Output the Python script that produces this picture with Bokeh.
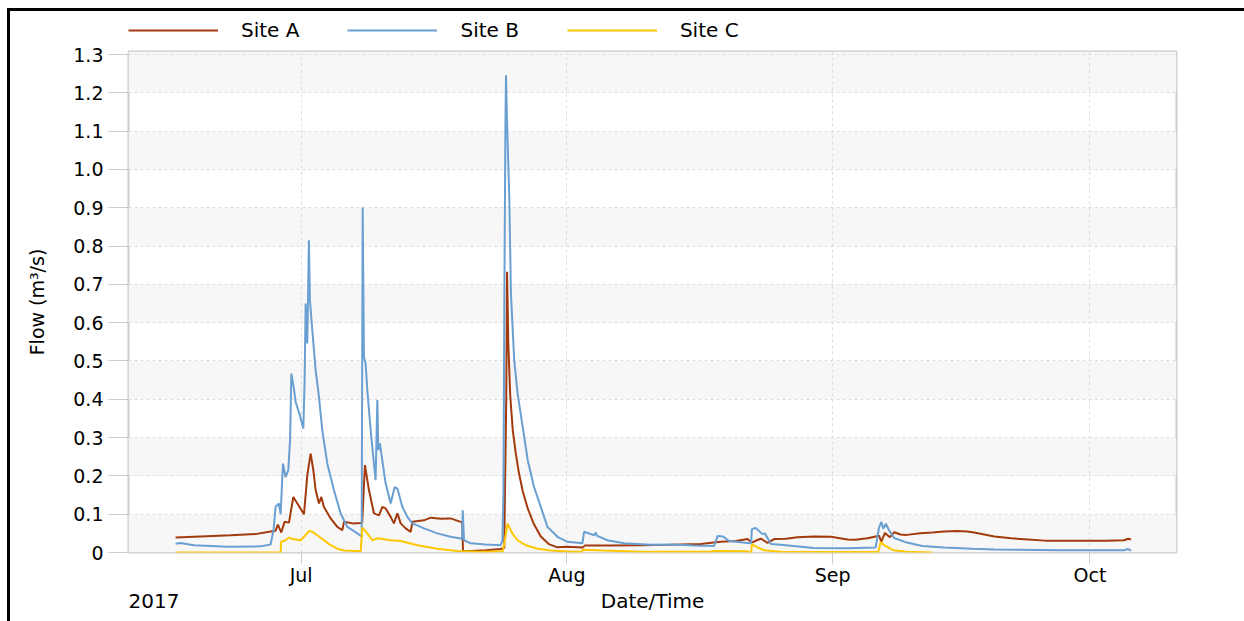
import pandas as pd
from bokeh.plotting import figure
from bokeh.layouts import column
from bokeh.models import (Legend, LegendItem, BoxAnnotation, FixedTicker,
                          DatetimeTickFormatter, Range1d, PrintfTickFormatter,
                          Label, ColumnDataSource)
from bokeh.embed import file_html
from bokeh.resources import INLINE

# ---------------- data ----------------
site_a_time = [
    "2017-06-16 08:40", "2017-06-19 06:30", "2017-06-22 18:30", "2017-06-25 16:30",
    "2017-06-27 10:30", "2017-06-28 00:30", "2017-06-28 07:00", "2017-06-28 16:30",
    "2017-06-29 01:40", "2017-06-29 14:00", "2017-06-30 02:10", "2017-06-30 13:30",
    "2017-07-01 08:00", "2017-07-01 17:20", "2017-07-02 02:40", "2017-07-02 10:10",
    "2017-07-02 16:40", "2017-07-03 02:00", "2017-07-03 08:40", "2017-07-03 15:50",
    "2017-07-04 10:40", "2017-07-05 05:20", "2017-07-05 19:20", "2017-07-06 00:00",
    "2017-07-07 00:10", "2017-07-07 22:40", "2017-07-08 02:50", "2017-07-08 10:40",
    "2017-07-08 21:50", "2017-07-09 11:50", "2017-07-10 01:50", "2017-07-10 11:30",
    "2017-07-10 20:40", "2017-07-11 10:40", "2017-07-11 19:50", "2017-07-12 05:30",
    "2017-07-12 14:40", "2017-07-13 04:40", "2017-07-13 18:40", "2017-07-13 23:30",
    "2017-07-15 08:00", "2017-07-16 02:40", "2017-07-17 06:40", "2017-07-18 10:40",
    "2017-07-19 14:40", "2017-07-19 19:00", "2017-07-19 21:10", "2017-07-20 18:40",
    "2017-07-22 12:40", "2017-07-24 06:40", "2017-07-24 16:30", "2017-07-24 22:10",
    "2017-07-25 00:30", "2017-07-25 03:50", "2017-07-25 09:20", "2017-07-25 16:20",
    "2017-07-26 00:40", "2017-07-26 09:10", "2017-07-26 20:20", "2017-07-27 10:20",
    "2017-07-28 03:10", "2017-07-28 22:50", "2017-07-29 21:10", "2017-07-30 19:40",
    "2017-07-31 23:40", "2017-08-02 20:20", "2017-08-03 02:00", "2017-08-06 02:40",
    "2017-08-09 14:40", "2017-08-13 02:40", "2017-08-16 14:40", "2017-08-18 03:10",
    "2017-08-18 22:50", "2017-08-20 16:50", "2017-08-22 01:40", "2017-08-22 13:40",
    "2017-08-23 03:40", "2017-08-23 14:50", "2017-08-24 09:40", "2017-08-25 04:10",
    "2017-08-26 13:00", "2017-08-27 21:40", "2017-08-29 20:10", "2017-08-31 19:00",
    "2017-09-02 17:30", "2017-09-03 16:00", "2017-09-05 01:00", "2017-09-05 15:00",
    "2017-09-06 09:40", "2017-09-06 16:00", "2017-09-07 02:10", "2017-09-07 16:00",
    "2017-09-08 04:30", "2017-09-08 21:20", "2017-09-09 15:40", "2017-09-11 05:20",
    "2017-09-12 15:00", "2017-09-13 23:00", "2017-09-15 13:00", "2017-09-16 16:50",
    "2017-09-17 12:00", "2017-09-19 20:40", "2017-09-21 19:40", "2017-09-23 19:00",
    "2017-09-25 18:00", "2017-09-27 19:00", "2017-09-29 15:50", "2017-10-02 21:00",
    "2017-10-04 23:30", "2017-10-05 10:50", "2017-10-05 19:10",
]
site_a_flow = [
    0.039, 0.042, 0.045, 0.048,
    0.055, 0.057, 0.073, 0.052,
    0.080, 0.078, 0.145, 0.128,
    0.100, 0.202, 0.258, 0.215,
    0.163, 0.128, 0.145, 0.119,
    0.089, 0.067, 0.058, 0.080,
    0.076, 0.077, 0.078, 0.228,
    0.163, 0.102, 0.097, 0.119,
    0.115, 0.093, 0.076, 0.102,
    0.076, 0.063, 0.054, 0.080,
    0.084, 0.091, 0.088, 0.089,
    0.080, 0.079, 0.004, 0.004,
    0.006, 0.009, 0.012, 0.400,
    0.733, 0.550, 0.410, 0.320,
    0.260, 0.210, 0.160, 0.115,
    0.075, 0.042, 0.022, 0.014,
    0.015, 0.013, 0.018, 0.018,
    0.019, 0.020, 0.022, 0.026,
    0.028, 0.030, 0.035, 0.026,
    0.032, 0.036, 0.025, 0.035,
    0.036, 0.040, 0.042, 0.041,
    0.034, 0.033, 0.037, 0.040,
    0.044, 0.028, 0.051, 0.040,
    0.053, 0.047, 0.046, 0.050,
    0.052, 0.055, 0.056, 0.055,
    0.052, 0.042, 0.037, 0.034,
    0.031, 0.031, 0.031, 0.031,
    0.032, 0.036, 0.034,
]

site_b_time = [
    "2017-06-16 08:40", "2017-06-16 22:40", "2017-06-18 11:50", "2017-06-22 09:20",
    "2017-06-26 06:30", "2017-06-27 10:30", "2017-06-27 19:00", "2017-06-28 00:30",
    "2017-06-28 09:50", "2017-06-28 14:40", "2017-06-28 21:10", "2017-06-29 04:30",
    "2017-06-29 12:10", "2017-06-29 17:20", "2017-06-29 20:40", "2017-06-30 03:50",
    "2017-06-30 08:40", "2017-06-30 20:40", "2017-07-01 06:10", "2017-07-01 09:50",
    "2017-07-01 12:40", "2017-07-01 17:20", "2017-07-01 21:50", "2017-07-02 00:40",
    "2017-07-02 07:20", "2017-07-02 16:40", "2017-07-03 02:00", "2017-07-03 11:20",
    "2017-07-04 01:20", "2017-07-04 19:50", "2017-07-05 14:40", "2017-07-06 09:20",
    "2017-07-07 13:30", "2017-07-08 01:30", "2017-07-08 04:20", "2017-07-08 07:50",
    "2017-07-08 12:40", "2017-07-08 17:20", "2017-07-09 02:40", "2017-07-09 11:50",
    "2017-07-09 16:30", "2017-07-09 21:20", "2017-07-10 00:10", "2017-07-10 04:40",
    "2017-07-10 11:20", "2017-07-10 20:40", "2017-07-11 10:40", "2017-07-11 21:50",
    "2017-07-12 05:30", "2017-07-12 19:30", "2017-07-13 09:20", "2017-07-13 23:30",
    "2017-07-15 08:00", "2017-07-16 21:20", "2017-07-18 10:40", "2017-07-19 19:00",
    "2017-07-19 20:20", "2017-07-20 00:00", "2017-07-20 18:40", "2017-07-22 12:40",
    "2017-07-24 06:40", "2017-07-24 11:30", "2017-07-24 14:20", "2017-07-24 17:00",
    "2017-07-24 19:50", "2017-07-24 21:30", "2017-07-25 00:20", "2017-07-25 03:40",
    "2017-07-25 06:30", "2017-07-25 11:20", "2017-07-25 20:30", "2017-07-26 06:00",
    "2017-07-26 20:10", "2017-07-27 10:20", "2017-07-28 04:00", "2017-07-28 22:50",
    "2017-07-29 17:30", "2017-07-30 21:40", "2017-08-01 01:30", "2017-08-02 19:30",
    "2017-08-03 00:00", "2017-08-04 04:00", "2017-08-04 08:40", "2017-08-04 11:30",
    "2017-08-05 17:30", "2017-08-07 16:00", "2017-08-10 18:40", "2017-08-13 02:40",
    "2017-08-15 20:00", "2017-08-18 04:00", "2017-08-18 13:40", "2017-08-19 04:30",
    "2017-08-19 22:00", "2017-08-22 01:40", "2017-08-22 11:40", "2017-08-22 13:40",
    "2017-08-23 00:40", "2017-08-23 19:30", "2017-08-24 02:00", "2017-08-24 19:00",
    "2017-08-25 22:50", "2017-08-29 19:10", "2017-09-02 17:30", "2017-09-06 00:10",
    "2017-09-06 09:40", "2017-09-06 16:00", "2017-09-06 21:40", "2017-09-07 04:50",
    "2017-09-07 13:40", "2017-09-08 03:40", "2017-09-09 12:10", "2017-09-11 10:50",
    "2017-09-13 23:00", "2017-09-17 07:00", "2017-09-19 20:40", "2017-09-27 16:00",
    "2017-10-04 23:30", "2017-10-05 10:50", "2017-10-05 19:10",
]
site_b_flow = [
    0.023, 0.025, 0.019, 0.015,
    0.016, 0.021, 0.060, 0.119,
    0.128, 0.100, 0.232, 0.197,
    0.215, 0.300, 0.467, 0.428,
    0.393, 0.358, 0.324, 0.450,
    0.650, 0.546, 0.815, 0.659,
    0.580, 0.476, 0.406, 0.319,
    0.232, 0.163, 0.102, 0.067,
    0.050, 0.041, 0.901, 0.511,
    0.493, 0.424, 0.319, 0.232,
    0.189, 0.398, 0.267, 0.285,
    0.240, 0.180, 0.128, 0.171,
    0.167, 0.119, 0.093, 0.076,
    0.063, 0.050, 0.041, 0.036,
    0.110, 0.032, 0.024, 0.021,
    0.019, 0.032, 0.154, 0.680,
    1.110, 1.246, 1.130, 1.020,
    0.937, 0.676, 0.502, 0.415,
    0.328, 0.241, 0.171, 0.119,
    0.067, 0.041, 0.028, 0.024,
    0.054, 0.045, 0.052, 0.044,
    0.032, 0.024, 0.020, 0.021,
    0.018, 0.017, 0.043, 0.042,
    0.030, 0.025, 0.024, 0.061,
    0.064, 0.048, 0.050, 0.022,
    0.020, 0.012, 0.011, 0.013,
    0.065, 0.080, 0.062, 0.075,
    0.058, 0.038, 0.027, 0.017,
    0.013, 0.010, 0.008, 0.006,
    0.006, 0.009, 0.005,
]

site_c_time = [
    "2017-06-16 08:40", "2017-06-28 14:40", "2017-06-28 16:00", "2017-06-29 04:30",
    "2017-06-29 14:00", "2017-06-30 00:10", "2017-06-30 22:40", "2017-07-01 08:00",
    "2017-07-01 21:50", "2017-07-02 07:20", "2017-07-02 21:20", "2017-07-03 15:50",
    "2017-07-04 10:40", "2017-07-05 05:20", "2017-07-06 00:00", "2017-07-07 22:40",
    "2017-07-08 03:20", "2017-07-08 17:20", "2017-07-09 07:30", "2017-07-09 21:20",
    "2017-07-11 10:40", "2017-07-12 14:40", "2017-07-14 13:30", "2017-07-16 21:20",
    "2017-07-19 05:30", "2017-07-21 22:30", "2017-07-24 12:20", "2017-07-24 18:00",
    "2017-07-25 01:40", "2017-07-25 15:20", "2017-07-26 05:30", "2017-07-27 04:50",
    "2017-07-28 13:30", "2017-07-30 02:40", "2017-08-01 10:30", "2017-08-02 17:30",
    "2017-08-02 20:20", "2017-08-05 08:00", "2017-08-09 14:40", "2017-08-17 18:40",
    "2017-08-18 03:10", "2017-08-21 21:00", "2017-08-22 11:40", "2017-08-22 14:10",
    "2017-08-23 05:30", "2017-08-24 00:00", "2017-08-25 22:50", "2017-09-06 07:40",
    "2017-09-06 14:00", "2017-09-07 02:10", "2017-09-08 01:40", "2017-09-09 14:10",
    "2017-09-12 15:00",
]
site_c_flow = [
    0.000, 0.000, 0.028, 0.032,
    0.039, 0.035, 0.032, 0.041,
    0.056, 0.054, 0.045, 0.032,
    0.019, 0.010, 0.005, 0.003,
    0.065, 0.050, 0.032, 0.037,
    0.032, 0.030, 0.019, 0.010,
    0.004, 0.002, 0.003, 0.030,
    0.075, 0.050, 0.032, 0.019,
    0.010, 0.005, 0.002, 0.002,
    0.007, 0.005, 0.002, 0.002,
    0.004, 0.003, 0.000, 0.022,
    0.013, 0.006, 0.002, 0.001,
    0.027, 0.018, 0.006, 0.002,
    0.000,
]

series_names = ["Site A", "Site B", "Site C"]
series_colors = ["#A33A0D", "#6A9FD2", "#FFC700"]
series_times = [site_a_time, site_b_time, site_c_time]
series_flows = [site_a_flow, site_b_flow, site_c_flow]

y_ticks = [0.0, 0.1, 0.2, 0.3, 0.4, 0.5, 0.6, 0.7, 0.8, 0.9, 1.0, 1.1, 1.2, 1.3]
month_ticks = ["2017-07-01", "2017-08-01", "2017-09-01", "2017-10-01"]
year_text = "2017"
x_title = "Date/Time"
y_title = "Flow (m³/s)"
x_start, x_end = "2017-06-10 20:50", "2017-10-11 02:20"
y_max = 1.308

FONT = "DejaVu Sans"
W = 1234


def strip(height):
    """A thin figure whose frame lines up with the main chart's frame."""
    f = figure(width=W, height=height, output_backend="svg", toolbar_location=None,
               x_axis_location=None, y_axis_location=None,
               min_border=0, min_border_left=0, min_border_right=0,
               min_border_top=0, min_border_bottom=0)
    f.outline_line_color = None
    f.grid.visible = False
    f.background_fill_color = "white"
    f.border_fill_color = "white"
    return f


# ---------------- legend strip (above the chart) ----------------
top = strip(31)
legend_renderers = [top.line(x=[pd.Timestamp(t[0])], y=[v[0]], line_color=c, line_width=2)
                    for t, v, c in zip(series_times, series_flows, series_colors)]
legend = Legend(items=[LegendItem(label=n, renderers=[r])
                       for n, r in zip(series_names, legend_renderers)],
                orientation="horizontal", location=(0, 0),
                glyph_width=90, glyph_height=20, label_standoff=23, spacing=48,
                border_line_color=None, background_fill_alpha=0,
                label_text_font=FONT, label_text_font_size="20px",
                label_text_color="black", margin=0, padding=1)
top.add_layout(legend)

# ---------------- main chart ----------------
p = figure(frame_width=1048, frame_height=501, x_axis_type="datetime",
           output_backend="svg", toolbar_location=None,
           x_range=Range1d(pd.Timestamp(x_start), pd.Timestamp(x_end)),
           y_range=Range1d(0, y_max),
           min_border_left=118, min_border_right=68,
           min_border_top=9, min_border_bottom=36)
p.background_fill_color = "white"
p.border_fill_color = "white"
p.outline_line_color = "#cccccc"
p.outline_line_width = 2

# alternating horizontal bands
for i in range(0, len(y_ticks) - 1, 2):
    band_top = y_ticks[i + 1] if i + 2 < len(y_ticks) - 1 else None
    p.add_layout(BoxAnnotation(bottom=y_ticks[i], top=band_top, fill_color="#f7f7f7",
                               fill_alpha=1.0, line_color=None, level="image"))

for t, v, c in zip(series_times, series_flows, series_colors):
    src = ColumnDataSource(dict(t=pd.to_datetime(t), v=v))
    p.line("t", "v", source=src, line_color=c, line_width=2)

p.xaxis.ticker = FixedTicker(ticks=[pd.Timestamp(m).value / 1e6 for m in month_ticks])
p.xaxis.formatter = DatetimeTickFormatter(months="%b", days="%b", hours="%b",
                                          minutes="%b", years="%b")
p.yaxis.ticker = FixedTicker(ticks=y_ticks)
p.yaxis.formatter = PrintfTickFormatter(format="%.1f")
p.yaxis.major_label_overrides = {0: "0"}

xa, ya = p.xaxis[0], p.yaxis[0]
for ax in (xa, ya):
    ax.axis_line_color = None
    ax.major_tick_line_color = "#cccccc"
    ax.major_tick_line_width = 1
    ax.major_tick_in = 0
    ax.minor_tick_line_color = None
    ax.major_label_text_font = FONT
    ax.major_label_text_font_size = "19px"
    ax.major_label_text_color = "black"

ya.major_tick_out = 20
ya.major_label_standoff = 5
ya.axis_label = y_title
ya.axis_label_text_font = FONT
ya.axis_label_text_font_style = "normal"
ya.axis_label_text_color = "black"
ya.axis_label_text_font_size = "19px"
ya.axis_label_standoff = 22

xa.major_tick_out = 11
xa.major_label_standoff = 0

for g in (p.xgrid[0], p.ygrid[0]):
    g.grid_line_color = "#dddddd"
    g.grid_line_dash = "3 3"
    g.grid_line_width = 1
p.xgrid.ticker = p.xaxis.ticker
p.ygrid.ticker = p.yaxis.ticker

# ---------------- bottom strip: year (left) and axis title (centre) ----------------
bottom = strip(33)
bottom.add_layout(Label(x=0, y=21, x_units="screen", y_units="screen", text=year_text,
                        text_font=FONT, text_font_size="20px", text_color="black",
                        text_baseline="middle", text_align="left"))
bottom.add_layout(Label(x=524, y=21, x_units="screen", y_units="screen", text=x_title,
                        text_font=FONT, text_font_size="20px", text_color="black",
                        text_baseline="middle", text_align="center"))

layout = column(top, p, bottom, spacing=0,
                styles={"margin-left": "7px", "margin-top": "8px",
                        "border-left": "3px solid black", "border-top": "3px solid black"})

open("out.html", "w").write(file_html(layout, INLINE))
